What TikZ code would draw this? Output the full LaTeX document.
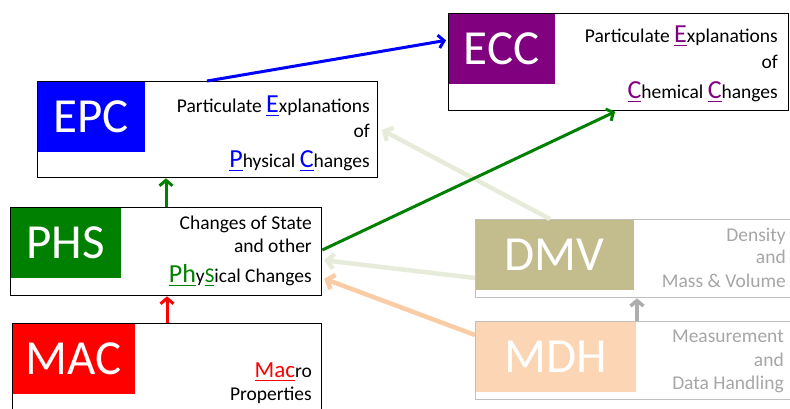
\documentclass[tikz,border=0pt]{standalone}
\usepackage{fontspec}
\setmainfont{Carlito}
\usetikzlibrary{arrows.meta,calc}
\definecolor{epcblue}{HTML}{0000FF}
\definecolor{eccpurple}{HTML}{800080}
\definecolor{phsgreen}{HTML}{008000}
\definecolor{macred}{HTML}{FF0000}
\definecolor{dmvkhaki}{HTML}{C3BC8C}
\definecolor{mdhpeach}{HTML}{FCD5B5}
\definecolor{palegreen}{HTML}{E7ECDA}
\definecolor{peacharrow}{HTML}{FACCA6}
\definecolor{textgray}{HTML}{A6A6A6}
\definecolor{boxgray}{HTML}{C0C0C0}
\definecolor{arrowgray}{HTML}{ADADAD}
\newcommand\hlt[3]{{\color{#1}\fontsize{#2}{#2}\selectfont\setbox0\hbox{#3}\rlap{\rule[-4pt]{\wd0}{1.3pt}}\box0}}
\begin{document}
\begin{tikzpicture}[x=1pt,y=-1pt,
  box/.style={draw=black, line width=1.3pt, anchor=north west, inner sep=0pt},
  gbox/.style={draw=boxgray, line width=1.3pt, anchor=north west, inner sep=0pt},
  block/.style={anchor=north west, inner sep=0pt, text=white, font=\fontsize{49}{49}\selectfont},
  txt/.style={anchor=base east, inner sep=0pt, font=\fontsize{19.5}{19.5}\selectfont},
  gtxt/.style={txt, text=textgray},
  arr/.style={line width=3pt, -{Straight Barb[length=5.5pt,width=13pt]}},
  palearr/.style={line width=4.5pt, -{Straight Barb[length=6.5pt,width=15pt]}}]
\useasboundingbox (0,0) rectangle (790,408);
\clip (0,0) rectangle (790,408);
% blocks
\node[block, fill=epcblue, minimum width=108pt, minimum height=71pt] (epcb) at (37,81) {EPC};
\node[block, fill=eccpurple, minimum width=107pt, minimum height=71pt] (eccb) at (448,13) {ECC};
\node[block, fill=phsgreen, minimum width=111pt, minimum height=71pt] (phsb) at (10,207) {PHS};
\node[block, fill=macred, minimum width=123pt, minimum height=71pt] (macb) at (12,323) {MAC};
\node[block, fill=dmvkhaki, minimum width=159pt, minimum height=71pt] (dmvb) at (475,219) {DMV};
\node[block, fill=mdhpeach, minimum width=161pt, minimum height=71pt] (mdhb) at (475,321) {MDH};
% outlines
\node[box, minimum width=340pt, minimum height=96pt] (epc) at (37,81) {};
\node[box, minimum width=340pt, minimum height=97pt] (ecc) at (448,13) {};
\node[box, minimum width=311pt, minimum height=88pt] (phs) at (10,207) {};
\node[box, minimum width=309pt, minimum height=100pt] (mac) at (12,323) {};
\node[gbox, minimum width=330pt, minimum height=78pt] (dmv) at (475,219) {};
\node[gbox, minimum width=330pt, minimum height=78pt] (mdh) at (475,321) {};
% texts
\node[txt] (epc1) at (370,112) {Particulate \hlt{epcblue}{26}{E}xplanations};
\node[txt] (epc2) at (370,137) {of};
\node[txt] (epc3) at (370,167) {\hlt{epcblue}{26}{P}hysical \hlt{epcblue}{26}{C}hanges};
\node[txt] (ecc1) at (778,42) {Particulate \hlt{eccpurple}{26}{E}xplanations};
\node[txt] (ecc2) at (778,68) {of};
\node[txt] (ecc3) at (778,98) {\hlt{eccpurple}{26}{C}hemical \hlt{eccpurple}{26}{C}hanges};
\node[txt] (phs1) at (312,229) {Changes of State};
\node[txt] (phs2) at (312,252) {and other};
\node[txt] (phs3) at (312,282) {\hlt{phsgreen}{26}{Ph}y\hlt{phsgreen}{21}{S}ical Changes};
\node[txt] (mac1) at (312,377) {\hlt{macred}{23}{Mac}ro};
\node[txt] (mac2) at (312,400) {Properties};
\node[gtxt] (dmv1) at (786,241) {Density};
\node[gtxt] (dmv2) at (786,263) {and};
\node[gtxt] (dmv3) at (786,287) {Mass \& Volume};
\node[gtxt] (mdh1) at (784,342) {Measurement};
\node[gtxt] (mdh2) at (784,366) {and};
\node[gtxt] (mdh3) at (784,389) {Data Handling};
% connectors
\draw[palearr, palegreen, shorten >=4pt] ([xshift=75pt]dmv.north west) -- ([yshift=-47pt]epc.north east);
\draw[palearr, palegreen, shorten >=2pt] ([yshift=-59pt]dmv.north west) -- ([yshift=-53pt]phs.north east);
\draw[palearr, peacharrow, shorten >=2pt] ([yshift=-14pt]mdh.north west) -- ([yshift=-71pt]phs.north east);
\draw[arr, arrowgray, line width=3.5pt] ([xshift=162pt]mdh.north west) -- ([xshift=162pt]dmv.south west);
\draw[arr, epcblue, shorten >=2pt] ([xshift=170pt]epc.north west) -- ([yshift=-27pt]ecc.north west);
\draw[arr, phsgreen] ([xshift=156pt]phs.north west) -- ([xshift=129pt]epc.south west);
\draw[arr, phsgreen, shorten >=1pt] ([yshift=-43pt]phs.north east) -- ([xshift=168pt]ecc.south west);
\draw[arr, macred] ([xshift=155pt]mac.north west) -- ([xshift=157pt]phs.south west);
\end{tikzpicture}
\end{document}
